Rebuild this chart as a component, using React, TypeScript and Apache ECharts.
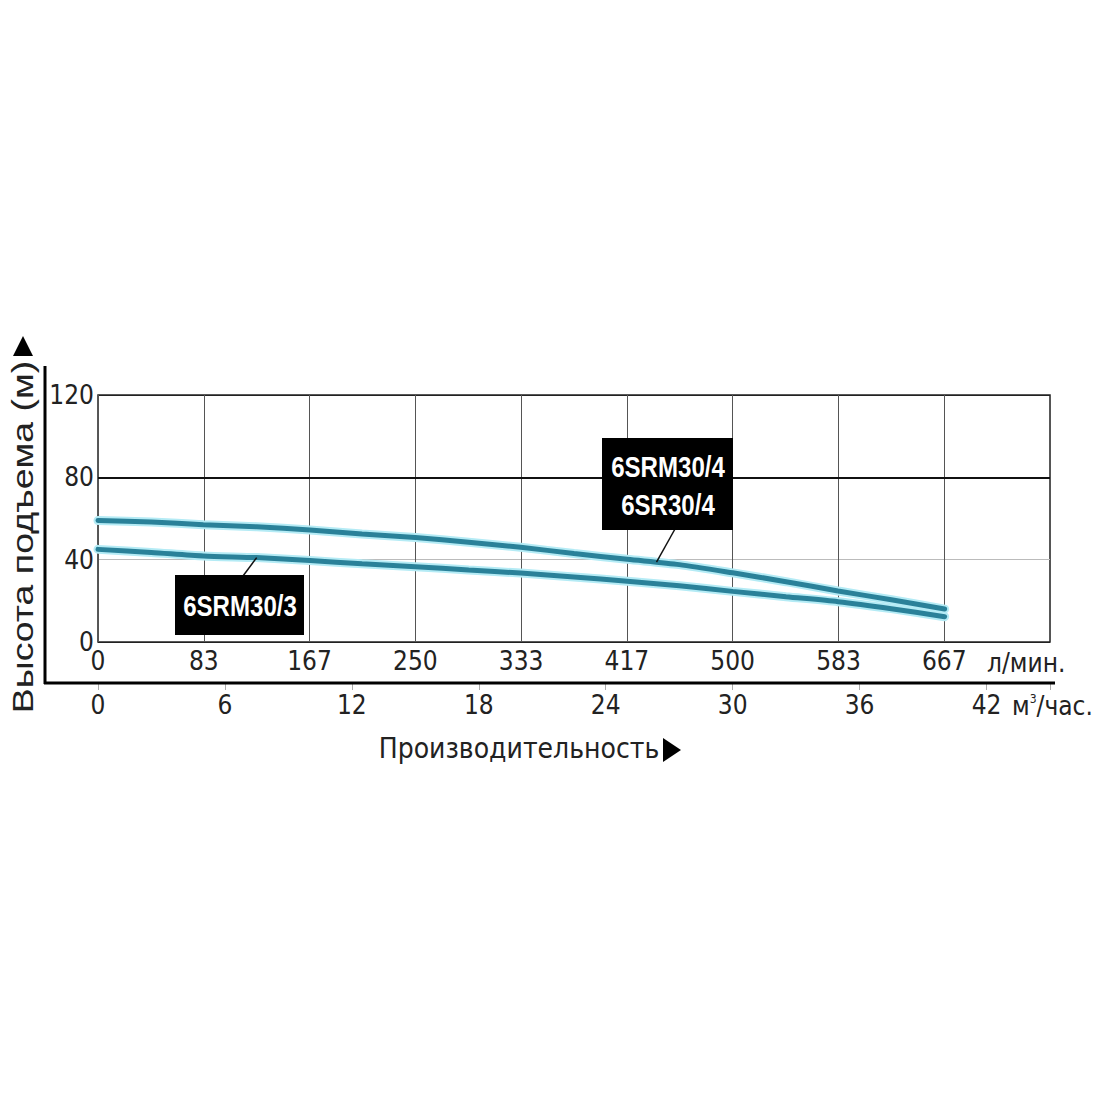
import React, { useEffect, useRef } from 'react';
import * as echarts from 'echarts';

// flow in l/min, head in metres
const flowLmin = [0, 42, 83, 125, 167, 208, 250, 292, 333, 375, 417, 458, 500, 542, 583, 625, 667];
const head4 = [59, 58.3, 57, 56, 54.4, 52.5, 50.8, 48.5, 46, 43, 40.2, 37.6, 33.6, 29.3, 24.8, 20.5, 16];
const head3 = [45, 43.5, 41.8, 41, 39.6, 38, 36.6, 35, 33.5, 31.6, 29.5, 27.3, 24.6, 22, 19.6, 16.2, 12.3];

const topTickLabels = ['0', '83', '167', '250', '333', '417', '500', '583', '667'];
const bottomTickLabels = ['0', '6', '12', '18', '24', '30', '36', '42'];
const yTickLabels = ['0', '40', '80', '120'];

const NARROW = "'DejaVu Sans Condensed', 'Liberation Sans', sans-serif";
const SANS = "'Liberation Sans', Arial, sans-serif";

const G = { left: 98, top: 395, width: 952, height: 247 };

const App: React.FC = () => {
  const ref = useRef<HTMLDivElement>(null);

  useEffect(() => {
    if (!ref.current) return;
    const chart = echarts.init(ref.current, undefined, { renderer: 'svg' });

    const pts = (ys: number[]) => flowLmin.map((x, i) => [x, ys[i]]);
    const halo = '#b4ebf5';
    const core = '#2a8199';

    const curve = (name: string, ys: number[], color: string, width: number, z: number) => ({
      name,
      type: 'line',
      data: pts(ys),
      smooth: 0.25,
      symbol: 'none',
      silent: true,
      z,
      lineStyle: { color, width, cap: 'round' },
    });

    chart.setOption({
      animation: false,
      backgroundColor: '#fff',
      grid: { ...G, show: true, borderColor: '#222', borderWidth: 1.5, backgroundColor: 'transparent' },
      xAxis: [
        {
          type: 'value',
          min: 0,
          max: 750,
          interval: 250 / 3,
          axisLine: { show: false },
          axisTick: { show: false },
          splitLine: { show: true, lineStyle: { color: '#555', width: 1 } },
          axisLabel: {
            margin: 6,
            fontFamily: NARROW,
            fontSize: 26,
            color: '#222',
            formatter: (_v: number, i: number) => topTickLabels[i] ?? '',
          },
        },
        {
          type: 'value',
          position: 'bottom',
          offset: 41,
          min: 0,
          max: 45,
          interval: 6,
          axisLine: { show: false },
          axisTick: { show: true, length: 7, lineStyle: { color: '#aaa', width: 1 } },
          splitLine: { show: false },
          axisLabel: {
            margin: 9,
            fontFamily: NARROW,
            fontSize: 26,
            color: '#222',
            formatter: (_v: number, i: number) => bottomTickLabels[i] ?? '',
          },
        },
      ],
      yAxis: {
        type: 'value',
        min: 0,
        max: 120,
        interval: 40,
        axisLine: { show: false },
        axisTick: { show: false },
        splitLine: { show: true, lineStyle: { color: ['#222', '#bbb', '#111', '#222'], width: 1 } },
        axisLabel: {
          margin: 4,
          fontFamily: NARROW,
          fontSize: 26,
          color: '#222',
          formatter: (_v: number, i: number) => yTickLabels[i] ?? '',
        },
      },
      series: [
        {
          ...curve('6SRM30/4 halo', head4, halo, 9, 2),
          markLine: {
            silent: true,
            symbol: 'none',
            label: { show: false },
            lineStyle: { color: '#111', width: 2, type: 'solid' },
            data: [{ yAxis: 80 }],
          },
        },
        curve('6SRM30/3 halo', head3, halo, 9, 2),
        curve('6SRM30/4', head4, core, 5, 3),
        curve('6SRM30/3', head3, core, 5, 3),
      ],
    });

    const p3 = chart.convertToPixel({ gridIndex: 0 }, [flowLmin[3], head3[3]]) as number[];
    const p4 = chart.convertToPixel({ gridIndex: 0 }, [440, 38.8]) as number[];

    const boxText = (text: string, x: number, y: number) => ({
      type: 'text',
      x,
      y,
      z: 20,
      scaleX: 0.83,
      style: {
        text,
        fill: '#fff',
        font: `bold 29px ${SANS}`,
        align: 'center',
        verticalAlign: 'middle',
      },
    });

    chart.setOption({
      graphic: [
        // left vertical axis with arrow
        { type: 'line', z: 10, shape: { x1: 45, y1: 366, x2: 45, y2: 684 }, style: { stroke: '#000', lineWidth: 3 } },
        { type: 'polygon', z: 10, shape: { points: [[13, 356], [33, 356], [23, 336]] }, style: { fill: '#000' } },
        // long horizontal axis
        { type: 'line', z: 10, shape: { x1: 44, y1: 683, x2: 1055, y2: 683 }, style: { stroke: '#000', lineWidth: 3 } },
        {
          type: 'text', x: 987, y: 663, z: 10,
          style: { text: 'л/мин.', font: `26px ${NARROW}`, fill: '#222', align: 'left', verticalAlign: 'middle' },
        },
        {
          type: 'text', x: 1012, y: 706, z: 10,
          style: {
            text: 'м{s|3}/час.',
            font: `26px ${NARROW}`,
            fill: '#222',
            align: 'left',
            verticalAlign: 'middle',
            rich: { s: { fontSize: 12, fontFamily: NARROW, verticalAlign: 'top', fill: '#222' } },
          },
        },
        {
          type: 'text', x: 519, y: 748, z: 10,
          style: { text: 'Производительность', font: `28px ${NARROW}`, fill: '#222', align: 'center', verticalAlign: 'middle' },
        },
        { type: 'polygon', z: 10, shape: { points: [[663, 738], [663, 762], [681, 750]] }, style: { fill: '#000' } },
        {
          type: 'text', x: 22, y: 537, rotation: Math.PI / 2, scaleX: 1.25, z: 10,
          style: { text: 'Высота подъема (м)', font: `30px ${SANS}`, fill: '#222', align: 'center', verticalAlign: 'middle' },
        },
        // label 6SRM30/3
        { type: 'line', z: 15, shape: { x1: 243, y1: 576, x2: p3[0], y2: p3[1] }, style: { stroke: '#111', lineWidth: 1.5 } },
        { type: 'rect', z: 18, shape: { x: 175, y: 575, width: 129, height: 60 }, style: { fill: '#000' } },
        boxText('6SRM30/3', 240, 606),
        // label 6SRM30/4 / 6SR30/4
        { type: 'line', z: 15, shape: { x1: 675, y1: 529, x2: p4[0], y2: p4[1] }, style: { stroke: '#111', lineWidth: 1.5 } },
        { type: 'rect', z: 18, shape: { x: 602, y: 438, width: 131, height: 92 }, style: { fill: '#000' } },
        boxText('6SRM30/4', 668, 467),
        boxText('6SR30/4', 668, 505),
      ],
    });

    return () => chart.dispose();
  }, []);

  return (
    <div
      ref={ref}
      style={{ position: 'fixed', left: 0, top: 0, width: 1100, height: 1100, background: '#fff' }}
    />
  );
};

export default App;
